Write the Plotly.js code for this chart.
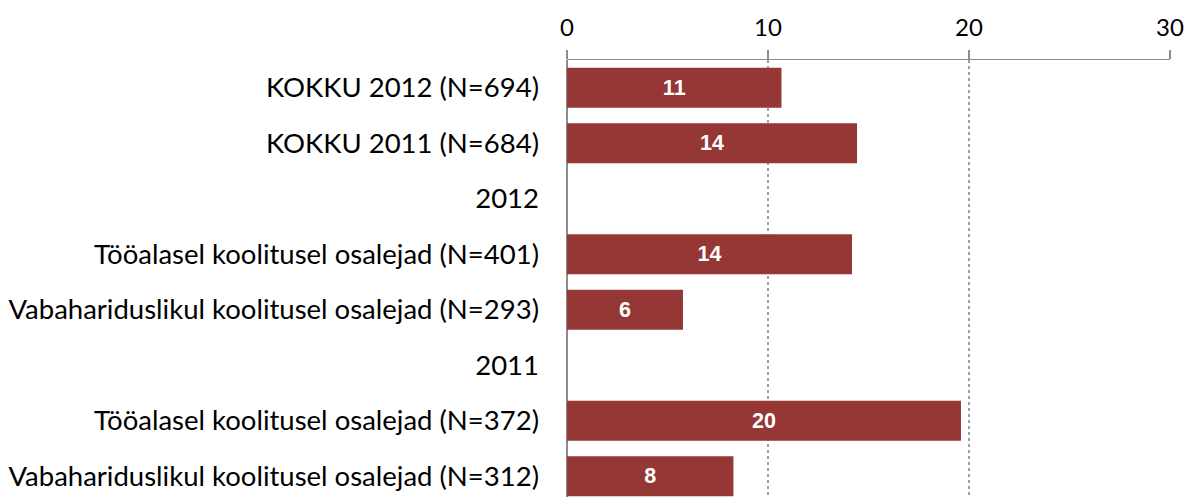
<!DOCTYPE html>
<html>
<head>
<meta charset="utf-8">
<script src="https://cdn.plot.ly/plotly-3.0.1.min.js"></script>
<style>html,body{margin:0;padding:0;background:#fff;}#chart{width:1191px;height:497px;}</style>
</head>
<body>
<div id="chart"></div>
<script>
const categories = [
  "KOKKU 2012 (N=694)",
  "KOKKU 2011 (N=684)",
  "2012",
  "Tööalasel koolitusel osalejad (N=401)",
  "Vabahariduslikul koolitusel osalejad (N=293)",
  "2011",
  "Tööalasel koolitusel osalejad (N=372)",
  "Vabahariduslikul koolitusel osalejad (N=312)"
];
const values = [10.67, 14.43, null, 14.18, 5.77, null, 19.6, 8.28];
const valueLabels = ["11", "14", "", "14", "6", "", "20", "8"];
const xTicks = [0, 10, 20, 30];

const trace = {
  type: 'bar',
  orientation: 'h',
  y: categories,
  x: values,
  text: valueLabels,
  textposition: 'inside',
  insidetextanchor: 'middle',
  constraintext: 'none',
  textangle: 0,
  textfont: {family: 'Liberation Sans, Arial, sans-serif', size: 21.5, color: '#ffffff', weight: 'bold'},
  marker: {color: '#953735'},
  width: 0.72,
  hoverinfo: 'none'
};

const layout = {
  width: 1191,
  height: 497,
  margin: {l: 567, r: 21, t: 60, b: 0, pad: 0},
  paper_bgcolor: '#ffffff',
  plot_bgcolor: '#ffffff',
  showlegend: false,
  font: {family: 'Lato, Liberation Sans, sans-serif', size: 20, color: '#000'},
  xaxis: {
    side: 'top',
    range: [0, 30],
    tickvals: xTicks,
    ticktext: xTicks.map(String),
    ticks: 'outside',
    ticklen: 9,
    tickwidth: 1.5,
    tickcolor: '#8c8c8c',
    showline: true,
    linecolor: '#8c8c8c',
    linewidth: 1.5,
    showgrid: true,
    gridcolor: '#a0a0a0',
    griddash: 'dot',
    gridwidth: 1.2,
    zeroline: true,
    zerolinecolor: '#8c8c8c',
    zerolinewidth: 1.5,
    ticklabelstandoff: 4,
    tickfont: {size: 24, color: '#000'},
    fixedrange: true
  },
  yaxis: {
    type: 'category',
    categoryorder: 'array',
    categoryarray: categories,
    range: [7.374, -0.5],
    showgrid: false,
    zeroline: false,
    showline: false,
    ticks: '',
    ticklabelstandoff: 27,
    tickfont: {size: 27.5, color: '#000'},
    fixedrange: true
  },
  bargap: 0.28
};

Plotly.newPlot('chart', [trace], layout, {staticPlot: true, displayModeBar: false});
</script>
</body>
</html>
